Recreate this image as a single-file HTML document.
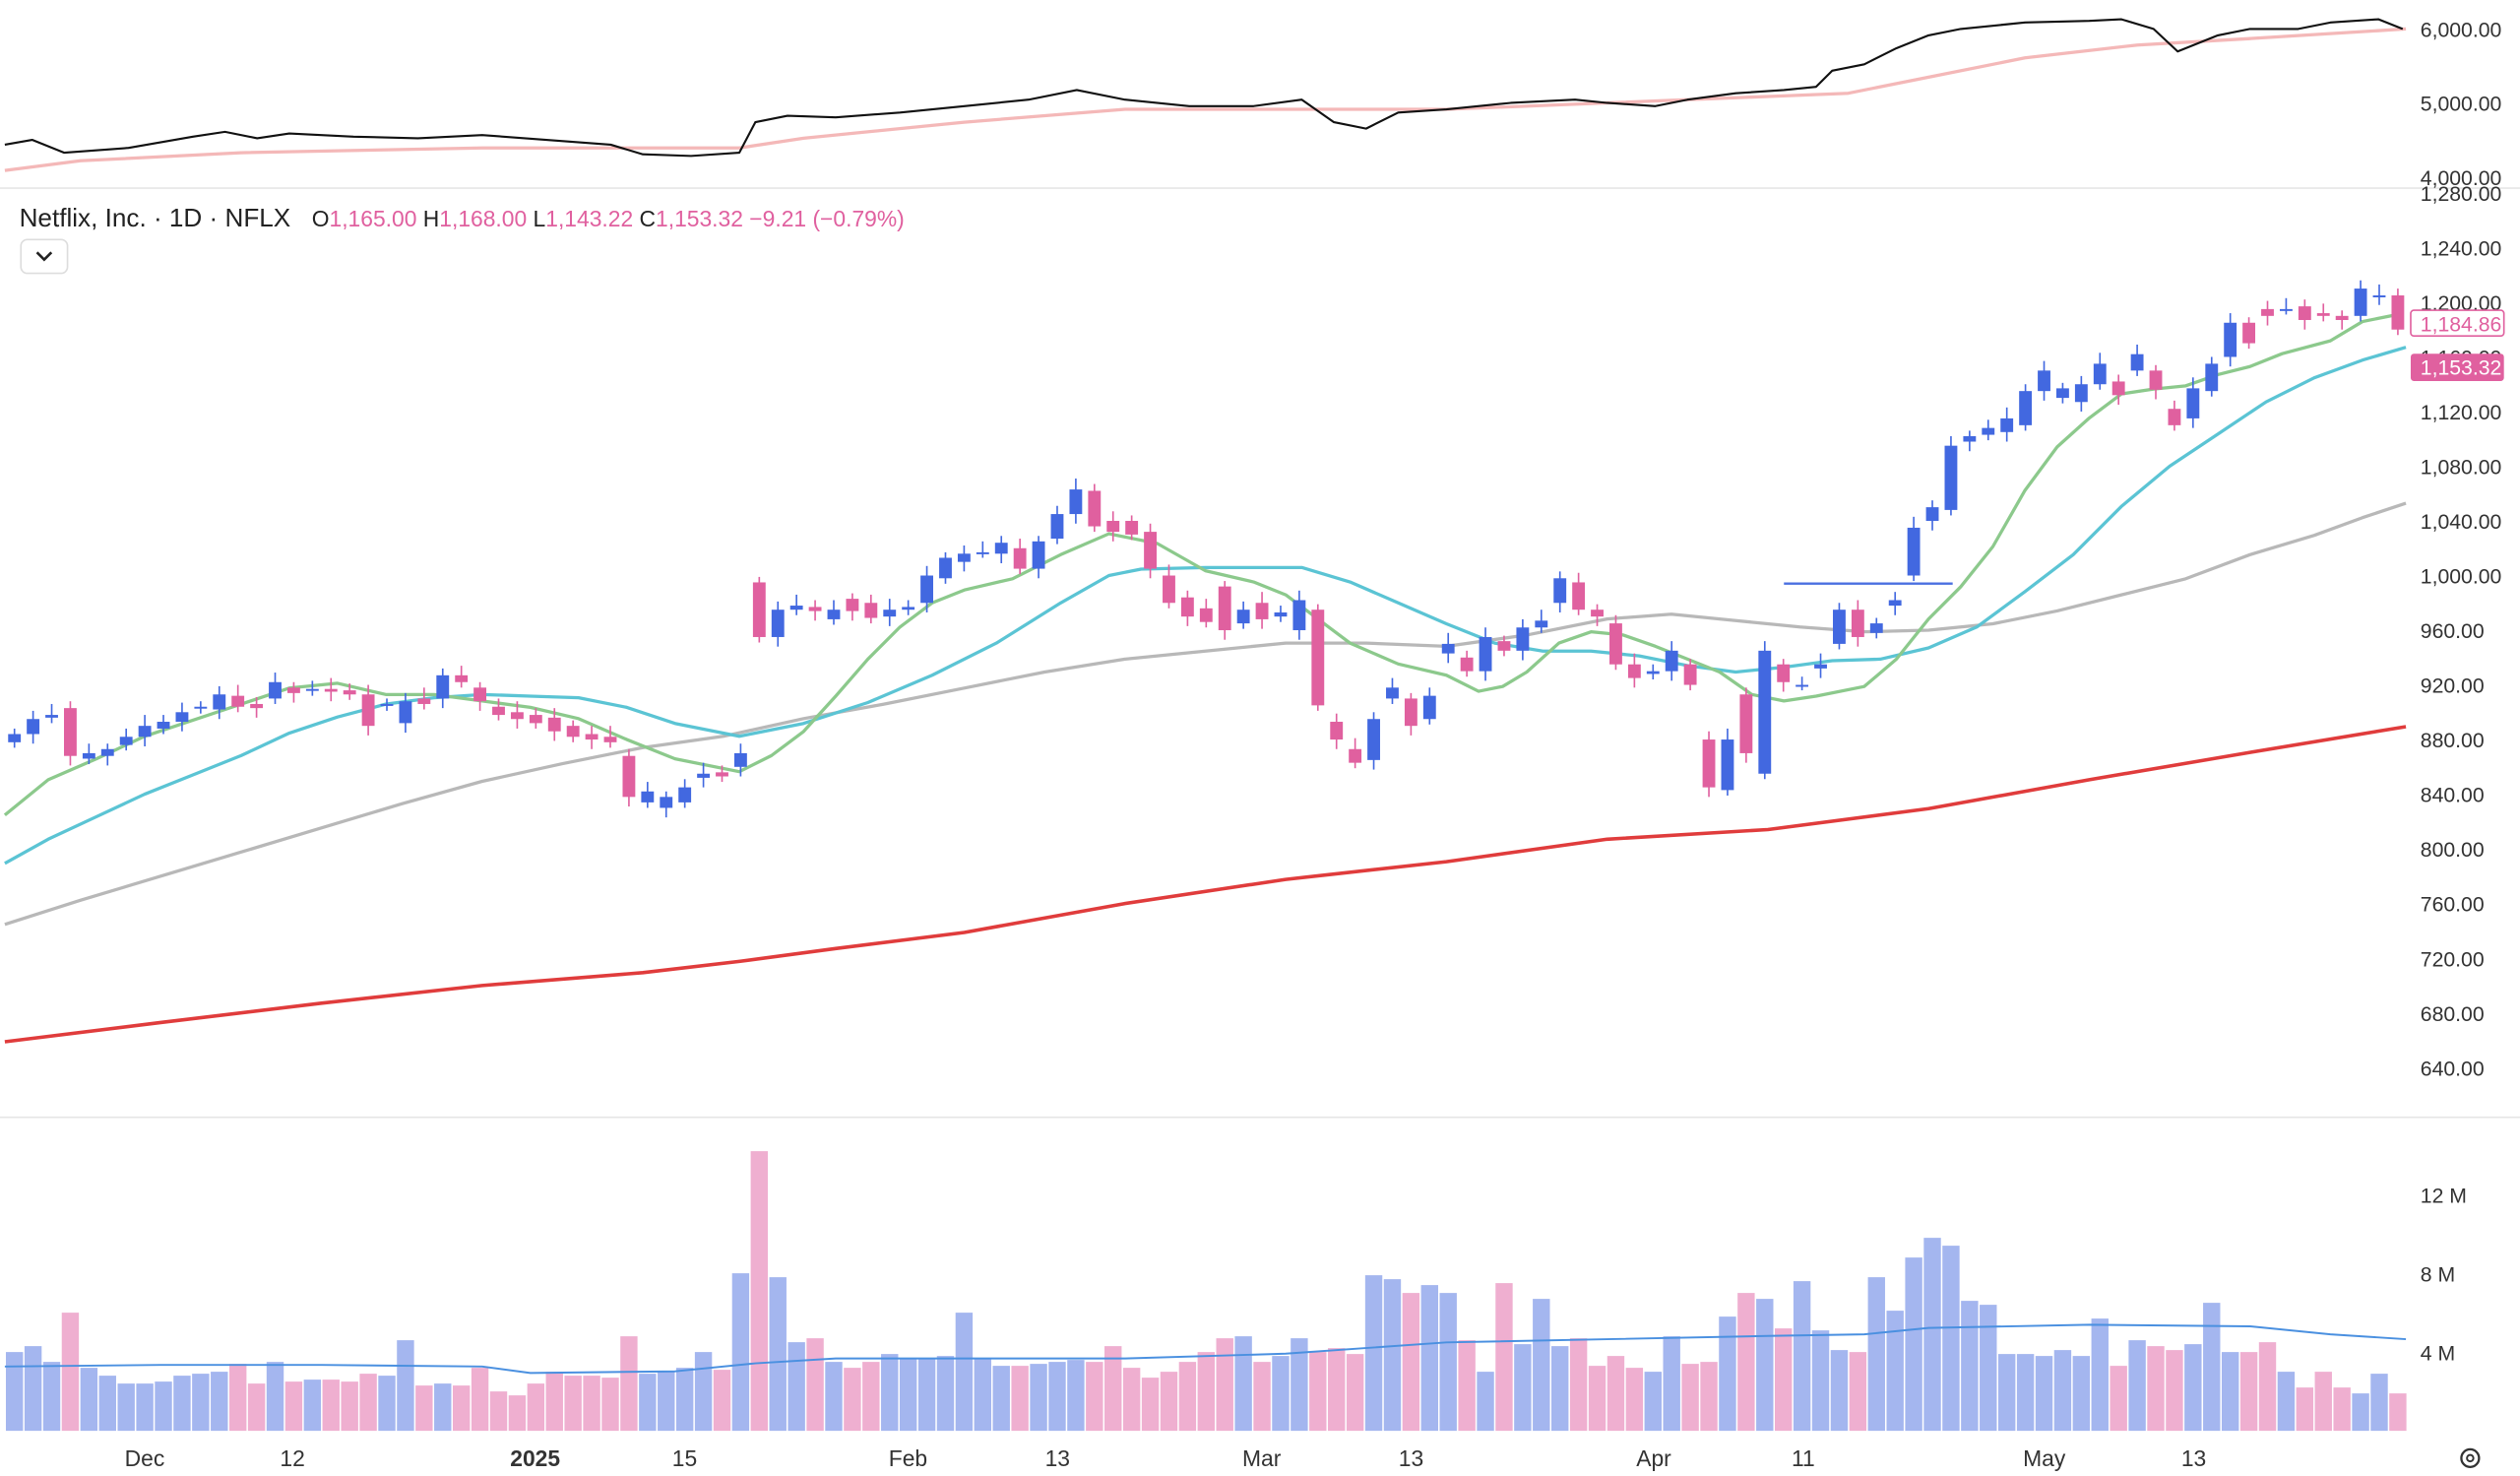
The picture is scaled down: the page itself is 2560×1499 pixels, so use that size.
<!DOCTYPE html>
<html><head><meta charset="utf-8">
<style>
html,body{margin:0;padding:0;background:#fff;}
svg{display:block;font-family:"Liberation Sans",sans-serif;}
</style></head>
<body>
<svg id="c" width="2560" height="1499" viewBox="0 0 1568 918.1" preserveAspectRatio="none" xmlns="http://www.w3.org/2000/svg">
<rect width="1568" height="918.1" fill="#fff"/>
<line x1="0" y1="117" x2="1568" y2="117" stroke="#e6e6e6" stroke-width="1"/>
<line x1="0" y1="695" x2="1568" y2="695" stroke="#e6e6e6" stroke-width="1"/>
<g id="gtop"></g>
<g id="gvol"></g>
<g id="gma"></g>
<g id="gcandles"></g>
<g font-size="13" fill="#333" text-anchor="start">
<text x="1506" y="23">6,000.00</text>
<text x="1506" y="69">5,000.00</text>
<text x="1506" y="115">4,000.00</text>
<text x="1506" y="125">1,280.00</text>
<text x="1506" y="159">1,240.00</text>
<text x="1506" y="193">1,200.00</text>
<text x="1506" y="227">1,160.00</text>
<text x="1506" y="261">1,120.00</text>
<text x="1506" y="295">1,080.00</text>
<text x="1506" y="329">1,040.00</text>
<text x="1506" y="363">1,000.00</text>
<text x="1506" y="397">960.00</text>
<text x="1506" y="431">920.00</text>
<text x="1506" y="465">880.00</text>
<text x="1506" y="499">840.00</text>
<text x="1506" y="533">800.00</text>
<text x="1506" y="567">760.00</text>
<text x="1506" y="601">720.00</text>
<text x="1506" y="635">680.00</text>
<text x="1506" y="669">640.00</text>
<text x="1506" y="748">12 M</text>
<text x="1506" y="797">8 M</text>
<text x="1506" y="846">4 M</text>
</g>
<rect x="1500" y="193" width="58" height="16" rx="2" fill="#fff" stroke="#e0609f"/>
<text x="1506" y="206" font-size="13" fill="#e0609f">1,184.86</text>
<rect x="1500" y="220" width="58" height="17" rx="2" fill="#e0609f"/>
<text x="1506" y="233" font-size="13" fill="#fff">1,153.32</text>
<text x="12" y="141" font-size="16" fill="#222">Netflix, Inc. · 1D · NFLX</text>
<text x="194" y="141" font-size="14" fill="#222">O<tspan fill="#e0609f">1,165.00</tspan> H<tspan fill="#e0609f">1,168.00</tspan> L<tspan fill="#e0609f">1,143.22</tspan> C<tspan fill="#e0609f">1,153.32</tspan> <tspan fill="#e0609f">−9.21 (−0.79%)</tspan></text>
<rect x="13" y="149" width="29" height="21" rx="4" fill="#fff" stroke="#ddd"/>
<path d="M23 157 L27.5 161.5 L32 157" fill="none" stroke="#222" stroke-width="1.6"/>
<g font-size="14" fill="#333" text-anchor="middle">
<text x="90" y="912">Dec</text>
<text x="182" y="912">12</text>
<text x="333" y="912" font-weight="bold">2025</text>
<text x="426" y="912">15</text>
<text x="565" y="912">Feb</text>
<text x="658" y="912">13</text>
<text x="785" y="912">Mar</text>
<text x="878" y="912">13</text>
<text x="1029" y="912">Apr</text>
<text x="1122" y="912">11</text>
<text x="1272" y="912">May</text>
<text x="1365" y="912">13</text>
</g>
<circle cx="1537" cy="907" r="5.5" fill="none" stroke="#333" stroke-width="1.4"/>
<circle cx="1537" cy="907" r="2" fill="none" stroke="#333" stroke-width="1.2"/>
</svg>
<script>
(function(){
var NS="http://www.w3.org/2000/svg";
function el(p,t,a){var e=document.createElementNS(NS,t);for(var k in a)e.setAttribute(k,a[k]);p.appendChild(e);return e;}
function pl(g,pts,col,w){el(g,"polyline",{points:pts.map(function(p){return p.join(",")}).join(" "),fill:"none",stroke:col,"stroke-width":w,"stroke-linejoin":"round"});}
var gTop=document.getElementById("gtop"),gMa=document.getElementById("gma"),gC=document.getElementById("gcandles"),gV=document.getElementById("gvol");
pl(gTop,[[3,106],[50,100],[150,95],[300,92],[460,92],[500,86],[600,76],[700,68],[800,68],[900,68],[1000,64],[1100,60],[1150,58],[1200,48],[1260,36],[1330,28],[1400,24],[1497,18]],"#f4b8b8",2);
pl(gTop,[[3,90],[20,87],[40,95],[80,92],[120,85],[140,82],[160,86],[180,83],[220,85],[260,86],[300,84],[340,87],[380,90],[400,96],[430,97],[460,95],[470,76],[490,72],[520,73],[560,70],[600,66],[640,62],[670,56],[700,62],[740,66],[780,66],[810,62],[830,76],[850,80],[870,70],[900,68],[940,64],[980,62],[1000,64],[1030,66],[1050,62],[1080,58],[1110,56],[1130,54],[1140,44],[1160,40],[1180,30],[1200,22],[1220,18],[1260,14],[1300,13],[1320,12],[1340,18],[1355,32],[1380,22],[1400,18],[1430,18],[1450,14],[1480,12],[1495,18]],"#111",1.3);
pl(gMa,[[3,648],[100,636],[200,624],[300,613],[400,605],[460,598],[520,590],[600,580],[700,562],[800,547],[900,536],[1000,522],[1100,516],[1200,503],[1300,485],[1400,468],[1497,452]],"#e03c3c",2.2);
pl(gMa,[[3,575],[50,560],[100,545],[150,530],[200,515],[250,500],[300,486],[350,475],[400,465],[450,458],[500,447],[550,438],[600,428],[650,418],[700,410],[750,405],[800,400],[850,400],[900,402],[950,395],[1000,385],[1040,382],[1080,386],[1120,390],[1160,393],[1200,392],[1240,388],[1280,380],[1320,370],[1360,360],[1400,345],[1440,333],[1470,322],[1497,313]],"#b8b8b8",2);
pl(gMa,[[3,537],[30,522],[60,508],[90,494],[120,482],[150,470],[180,456],[210,446],[240,438],[270,434],[300,432],[330,433],[360,434],[390,440],[420,450],[460,458],[500,450],[540,437],[580,420],[620,400],[660,375],[690,358],[710,354],[750,353],[780,353],[810,353],[840,362],[870,375],[900,388],[930,400],[960,405],[990,405],[1020,408],[1050,414],[1080,418],[1110,415],[1140,411],[1170,410],[1200,403],[1230,390],[1260,368],[1290,345],[1320,315],[1350,290],[1380,270],[1410,250],[1440,235],[1470,224],[1497,216]],"#5bc4d4",2);
pl(gMa,[[3,507],[30,485],[60,472],[90,458],[120,448],[150,438],[180,428],[210,425],[240,432],[270,432],[300,436],[330,440],[360,447],[390,460],[420,472],[460,480],[480,470],[500,455],[520,433],[540,410],[560,390],[580,375],[600,367],[630,360],[660,345],[690,332],[720,338],[750,355],[780,362],[800,370],[820,385],[840,400],[870,413],[900,420],[920,430],[935,427],[950,418],[970,400],[990,393],[1010,395],[1030,402],[1050,410],[1070,418],[1090,432],[1110,436],[1130,433],[1160,427],[1180,410],[1200,385],[1220,365],[1240,340],[1260,305],[1280,278],[1300,260],[1320,245],[1340,242],[1360,240],[1380,233],[1400,228],[1420,220],[1450,212],[1470,200],[1495,195]],"#8cc98c",2);
el(gMa,"line",{x1:1110,y1:363,x2:1215,y2:363,stroke:"#4a6fe0","stroke-width":1.5});
var d=[[878,884],[884,895],[896,898],[903,868],[866,870],[868,873],[876,882],[882,890],[888,893],[893,900],[903,904],[902,913],[912,904],[906,903],[910,922],[918,914],[916,917],[917,915],[916,913],[913,890],[905,906],[892,908],[910,906],[910,927],[927,922],[918,908],[904,898],[900,895],[898,892],[896,886],[890,882],[884,880],[882,878],[868,838],[834,842],[830,838],[834,845],[852,855],[856,853],[860,870],[995,955],[955,975],[975,978],[977,974],[968,975],[983,974],[980,969],[970,975],[975,977],[980,1000],[998,1013],[1010,1016],[1017,1017],[1016,1024],[1020,1005],[1005,1025],[1027,1045],[1045,1063],[1062,1036],[1040,1032],[1040,1030],[1032,1005],[1000,980],[984,970],[976,966],[992,960],[965,975],[980,968],[970,973],[960,982],[975,905],[893,880],[873,863],[865,895],[910,918],[910,890],[895,912],[943,950],[940,930],[930,955],[952,945],[945,962],[962,967],[980,998],[995,975],[975,970],[965,935],[935,925],[928,930],[930,945],[935,920],[880,845],[843,880],[913,870],[855,945],[935,922],[920,920],[932,935],[950,975],[975,955],[958,965],[978,982],[1000,1035],[1040,1050],[1048,1095],[1098,1102],[1103,1108],[1105,1115],[1110,1135],[1135,1150],[1130,1137],[1127,1140],[1140,1155],[1142,1132],[1150,1162],[1150,1136],[1122,1110],[1115,1137],[1135,1155],[1160,1185],[1185,1170],[1195,1190],[1195,1195],[1197,1187],[1192,1190],[1190,1187],[1190,1210],[1205,1205],[1205,1180]];
var v=[4,4.3,3.5,6,3.2,2.8,2.4,2.4,2.5,2.8,2.9,3,3.4,2.4,3.5,2.5,2.6,2.6,2.5,2.9,2.8,4.6,2.3,2.4,2.3,3.2,2,1.8,2.4,3,2.8,2.8,2.7,4.8,2.9,3,3.2,4,3.1,8,14.2,7.8,4.5,4.7,3.5,3.2,3.5,3.9,3.7,3.7,3.8,6,3.7,3.3,3.3,3.4,3.5,3.6,3.5,4.3,3.2,2.7,3,3.5,4,4.7,4.8,3.5,3.8,4.7,4,4.2,3.9,7.9,7.7,7,7.4,7,4.6,3,7.5,4.4,6.7,4.3,4.7,3.3,3.8,3.2,3,4.8,3.4,3.5,5.8,7,6.7,5.2,7.6,5.1,4.1,4,7.8,6.1,8.8,9.8,9.4,6.6,6.4,3.9,3.9,3.8,4.1,3.8,5.7,3.3,4.6,4.3,4.1,4.4,6.5,4,4,4.5,3,2.2,3,2.2,1.9,2.9,1.9,3.4];
function py(p){return 188+(1200-p)*0.85;}
var n=d.length,sp=(1492-9)/(n-1),bw=sp*0.68;
for(var i=0;i<n;i++){
 var x=9+i*sp,o=d[i][0],c=d[i][1],up=c>=o,col=up?"#4268e0":"#e0609f";
 var hi=Math.max(o,c)+4+((i*7)%5),lo=Math.min(o,c)-4-((i*3)%6);
 el(gC,"line",{x1:x,y1:py(hi),x2:x,y2:py(lo),stroke:col,"stroke-width":1});
 var y1=py(Math.max(o,c)),h=Math.max(1.2,py(Math.min(o,c))-y1);
 el(gC,"rect",{x:x-bw/2,y:y1,width:bw,height:h,fill:col});
 if(i<v.length){var vh=v[i]*98/8;el(gV,"rect",{x:x-sp*0.46,y:890-vh,width:sp*0.92,height:vh,fill:up?"#a4b6ef":"#efafd0"});}
}
pl(gV,[[3,850],[100,849],[200,849],[300,850],[330,854],[420,853],[470,848],[520,845],[600,845],[700,845],[800,842],[900,835],[1000,833],[1100,831],[1160,830],[1200,826],[1300,824],[1400,825],[1450,830],[1497,833]],"#4a90e0",1.2);
})();
</script>
</body></html>
